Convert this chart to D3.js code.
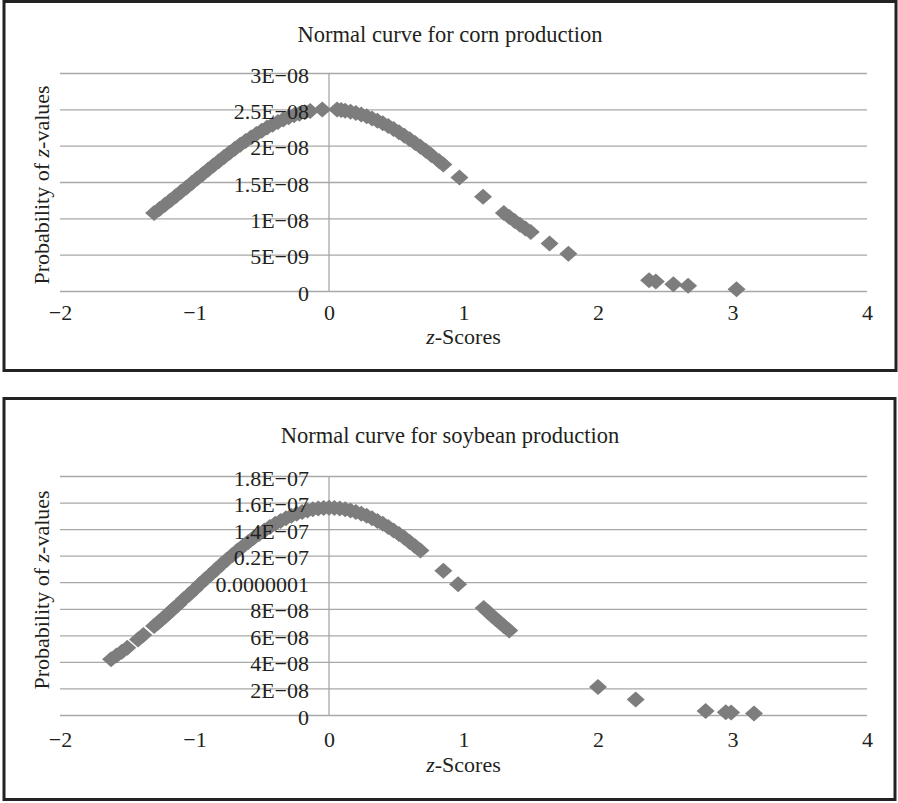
<!DOCTYPE html>
<html>
<head>
<meta charset="utf-8">
<script src="https://cdn.jsdelivr.net/npm/d3@7"></script>
<style>
  html, body { margin: 0; padding: 0; background: #fff; }
  svg { display: block; }
  text { font-family: "Liberation Serif", "Times New Roman", serif; fill: #231f20; }
</style>
</head>
<body>
<div id="chart"></div>
<script>
// z-scores and probabilities
var cornZ = [-1.30, -1.26, -1.22, -1.18, -1.14, -1.10, -1.06, -1.02, -0.98, -0.94,
  -0.90, -0.86, -0.82, -0.78, -0.74, -0.70, -0.66, -0.62, -0.58, -0.54,
  -0.50, -0.46, -0.42, -0.38, -0.34, -0.30, -0.26, -0.22, -0.18, -0.14, -0.05,
  0.06, 0.09, 0.12, 0.16, 0.20, 0.24, 0.28, 0.32, 0.36, 0.40,
  0.44, 0.48, 0.52, 0.56, 0.60, 0.64, 0.68, 0.72, 0.76, 0.82,
  0.85, 0.97, 1.145, 1.30, 1.34, 1.38, 1.42, 1.46, 1.50, 1.64,
  1.78, 2.38, 2.43, 2.56, 2.67, 3.03];
var cornP = [1.074e-8, 1.130e-8, 1.188e-8, 1.246e-8, 1.305e-8, 1.365e-8, 1.425e-8, 1.486e-8, 1.547e-8, 1.607e-8,
  1.668e-8, 1.727e-8, 1.786e-8, 1.844e-8, 1.901e-8, 1.957e-8, 2.011e-8, 2.063e-8, 2.113e-8, 2.161e-8,
  2.206e-8, 2.249e-8, 2.289e-8, 2.326e-8, 2.359e-8, 2.390e-8, 2.417e-8, 2.440e-8, 2.460e-8, 2.476e-8, 2.497e-8,
  2.496e-8, 2.490e-8, 2.482e-8, 2.468e-8, 2.450e-8, 2.429e-8, 2.404e-8, 2.375e-8, 2.343e-8, 2.308e-8,
  2.269e-8, 2.228e-8, 2.184e-8, 2.138e-8, 2.088e-8, 2.037e-8, 1.984e-8, 1.929e-8, 1.872e-8, 1.786e-8,
  1.742e-8, 1.562e-8, 1.298e-8, 1.074e-8, 1.019e-8, 0.965e-8, 0.912e-8, 0.861e-8, 0.812e-8, 0.652e-8,
  0.513e-8, 0.147e-8, 0.130e-8, 0.094e-8, 0.071e-8, 0.025e-8];

var soyZ = [-1.62, -1.58, -1.54, -1.50, -1.42, -1.38, -1.30, -1.27, -1.24, -1.21,
  -1.18, -1.15, -1.12, -1.08, -1.04, -1.00, -0.96, -0.92, -0.88, -0.84,
  -0.80, -0.76, -0.72, -0.68, -0.64, -0.60, -0.56, -0.52, -0.48, -0.44,
  -0.40, -0.36, -0.32, -0.28, -0.24, -0.20, -0.16, -0.12, -0.08, -0.04, 0.00,
  0.04, 0.08, 0.12, 0.16, 0.20, 0.24, 0.28, 0.32, 0.36, 0.40,
  0.44, 0.48, 0.52, 0.56, 0.60, 0.64, 0.68, 0.85, 0.96, 1.15,
  1.18, 1.21, 1.24, 1.27, 1.30, 1.34, 2.00, 2.28, 2.80, 2.95, 2.99, 3.16];
var soyP = [0.420e-7, 0.448e-7, 0.477e-7, 0.507e-7, 0.569e-7, 0.602e-7, 0.670e-7, 0.696e-7, 0.723e-7, 0.750e-7,
  0.778e-7, 0.805e-7, 0.833e-7, 0.871e-7, 0.908e-7, 0.946e-7, 0.984e-7, 1.022e-7, 1.059e-7, 1.096e-7,
  1.133e-7, 1.169e-7, 1.204e-7, 1.238e-7, 1.271e-7, 1.303e-7, 1.334e-7, 1.363e-7, 1.390e-7, 1.416e-7,
  1.440e-7, 1.462e-7, 1.482e-7, 1.500e-7, 1.516e-7, 1.529e-7, 1.540e-7, 1.549e-7, 1.555e-7, 1.559e-7, 1.560e-7,
  1.559e-7, 1.555e-7, 1.549e-7, 1.540e-7, 1.529e-7, 1.516e-7, 1.500e-7, 1.482e-7, 1.462e-7, 1.440e-7,
  1.416e-7, 1.390e-7, 1.363e-7, 1.334e-7, 1.303e-7, 1.271e-7, 1.238e-7, 1.087e-7, 0.984e-7, 0.805e-7,
  0.778e-7, 0.750e-7, 0.723e-7, 0.696e-7, 0.670e-7, 0.636e-7, 0.211e-7, 0.116e-7, 0.031e-7, 0.020e-7, 0.018e-7, 0.011e-7];

var xTicks = [-2, -1, 0, 1, 2, 3, 4];
var cornYTicks = [0, 5e-9, 1e-8, 1.5e-8, 2e-8, 2.5e-8, 3e-8];
var cornYLabels = ['0', '5E\u221209', '1E\u221208', '1.5E\u221208', '2E\u221208', '2.5E\u221208', '3E\u221208'];
var soyYTicks = [0, 2e-8, 4e-8, 6e-8, 8e-8, 1e-7, 1.2e-7, 1.4e-7, 1.6e-7, 1.8e-7];
var soyYLabels = ['0', '2E\u221208', '4E\u221208', '6E\u221208', '8E\u221208', '0.0000001', '0.2E\u221207', '1.4E\u221207', '1.6E\u221207', '1.8E\u221207'];

var width = 898, height = 803;
var svg = d3.select('#chart').append('svg')
    .attr('width', width)
    .attr('height', height);

var gridColor = '#a8a8a8';
var markColor = '#7d7d7d';
var mw = 18, mh = 16;   // diamond marker size

function diamond(d) {
    return 'M0,' + (-mh / 2) + 'L' + (mw / 2) + ',0L0,' + (mh / 2) + 'L' + (-mw / 2) + ',0Z';
}

function drawChart(opt) {
    var g = svg.append('g');

    g.append('rect')
        .attr('x', opt.frame[0]).attr('y', opt.frame[1])
        .attr('width', opt.frame[2]).attr('height', opt.frame[3])
        .attr('fill', 'none')
        .attr('stroke', '#222')
        .attr('stroke-width', 3);

    var x = d3.scaleLinear().domain([-2, 4]).range([60, 867]);
    var y = d3.scaleLinear().domain(opt.yDomain).range([opt.bottom, opt.top]);

    // horizontal gridlines
    var grid = g.append('g')
        .attr('transform', 'translate(' + x(-2) + ',0)')
        .call(d3.axisLeft(y).tickValues(opt.yTicks).tickSize(-(x(4) - x(-2))).tickFormat(''));
    grid.select('.domain').remove();
    grid.selectAll('line').attr('stroke', gridColor).attr('stroke-width', 1.3);

    // vertical axis line at z = 0
    g.append('line')
        .attr('x1', x(0)).attr('x2', x(0))
        .attr('y1', y(opt.yDomain[1])).attr('y2', y(0))
        .attr('stroke', gridColor).attr('stroke-width', 1.3);

    // markers
    g.append('g').selectAll('path')
        .data(opt.z)
        .enter()
        .append('path')
        .attr('d', diamond)
        .attr('transform', function (d, i) {
            return 'translate(' + x(d) + ',' + y(opt.p[i]) + ')';
        })
        .attr('fill', markColor);

    // y labels sit left of the z = 0 axis, over the markers
    var yAxis = g.append('g')
        .attr('transform', 'translate(' + x(0) + ',0)')
        .call(d3.axisLeft(y).tickValues(opt.yTicks).tickSize(0).tickPadding(20)
            .tickFormat(function (d, i) { return opt.yLabels[i]; }));
    yAxis.select('.domain').remove();
    yAxis.selectAll('text')
        .attr('dy', 9)
        .style('font-size', '22px')
        .style('font-family', '"Liberation Serif", serif')
        .attr('fill', '#231f20');

    // x labels
    var xAxis = g.append('g')
        .attr('transform', 'translate(0,' + y(0) + ')')
        .call(d3.axisBottom(x).tickValues(xTicks).tickSize(0)
            .tickFormat(function (d) { return d < 0 ? '\u2212' + Math.abs(d) : d; }));
    xAxis.select('.domain').remove();
    xAxis.selectAll('text')
        .attr('y', opt.xLabelDy)
        .attr('dy', 0)
        .style('font-size', '22px')
        .style('font-family', '"Liberation Serif", serif')
        .attr('fill', '#231f20');

    // titles
    g.append('text')
        .attr('x', 450)
        .attr('y', opt.titleY)
        .attr('text-anchor', 'middle')
        .style('font-size', '22.5px')
        .text(opt.title);

    var xt = g.append('text')
        .attr('x', (x(-2) + x(4)) / 2)
        .attr('y', y(0) + opt.xTitleDy)
        .attr('text-anchor', 'middle')
        .style('font-size', '22px');
    xt.append('tspan').style('font-style', 'italic').text('z');
    xt.append('tspan').text('-Scores');

    var yt = g.append('text')
        .attr('transform', 'translate(49,' + opt.yTitleY + ') rotate(-90)')
        .attr('text-anchor', 'middle')
        .style('font-size', '22px');
    yt.append('tspan').text('Probability of ');
    yt.append('tspan').style('font-style', 'italic').text('z');
    yt.append('tspan').text('-values');
}

drawChart({
    frame: [4, 1.5, 892, 369],
    title: 'Normal curve for corn production',
    titleY: 42,
    top: 73, bottom: 291,
    yDomain: [0, 3e-8],
    yTicks: cornYTicks, yLabels: cornYLabels,
    z: cornZ, p: cornP,
    xLabelDy: 29, xTitleDy: 53,
    yTitleY: 185
});

drawChart({
    frame: [4, 398.5, 891, 401],
    title: 'Normal curve for soybean production',
    titleY: 443,
    top: 476, bottom: 715,
    yDomain: [0, 1.8e-7],
    yTicks: soyYTicks, yLabels: soyYLabels,
    z: soyZ, p: soyP,
    xLabelDy: 32, xTitleDy: 57,
    yTitleY: 590
});
</script>
</body>
</html>
